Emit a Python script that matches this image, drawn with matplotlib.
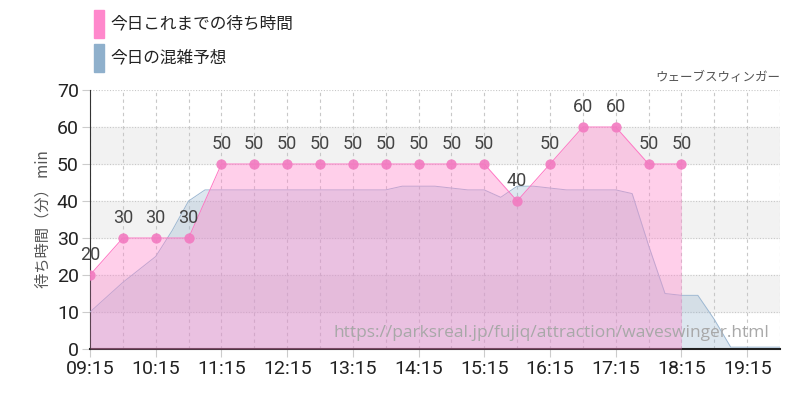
import matplotlib
matplotlib.use("Agg")
import matplotlib.pyplot as plt
import numpy as np

plt.rcParams['font.family'] = ['Noto Sans CJK JP', 'DejaVu Sans']

start_min = 9*60+15
actual_times = [start_min + 30*i for i in range(19)]
actual_vals = [20, 30, 30, 30, 50, 50, 50, 50, 50, 50, 50, 50, 50, 40, 50, 60, 60, 50, 50]
fc_times = [start_min + 15*i for i in range(43)]
fc_vals = [10, 14, 18, 21.5, 25, 32, 40, 43, 43, 43, 43, 43, 43, 43, 43, 43, 43, 43, 43,
           44, 44, 44, 43.5, 43, 43, 41, 44, 44, 43.5, 43, 43, 43, 43, 42, 28, 15,
           14.5, 14.5, 8, 0.5, 0.5, 0.5, 0.5]
fc_times = fc_times[:len(fc_vals)]
xtick_labels = ["09:15", "10:15", "11:15", "12:15", "13:15", "14:15", "15:15", "16:15", "17:15", "18:15", "19:15"]

fig = plt.figure(figsize=(8, 4), dpi=100)
ax = fig.add_axes([0.1125, 0.1275, 0.8625, 0.6475])
xmin, xmax = start_min, 19*60+45
ax.set_xlim(xmin, xmax)
ax.set_ylim(0, 70)
for lo in (10, 30, 50):
    ax.axhspan(lo, lo+10, color='#f2f2f2', zorder=0)
for y in range(10, 71, 10):
    ax.axhline(y, color='#c8c8c8', lw=0.8, ls=(0, (1, 1.5)), zorder=1)
for t in range(xmin, xmax+1, 30):
    ax.axvline(t, color='#c8c8c8', lw=0.8, ls=(0, (3, 3)), zorder=1)

ax.fill_between(fc_times, fc_vals, color='#8fb0cc', alpha=0.3, lw=0, zorder=2)
ax.plot(fc_times, fc_vals, color='#9db8d2', lw=0.7, zorder=3)
ax.fill_between(actual_times, actual_vals, color='#ff88cc', alpha=0.4, lw=0, zorder=4)
ax.plot(actual_times, actual_vals, color='#ff77c4', lw=0.7, zorder=5)
ax.scatter(actual_times, actual_vals, s=55, color='#f27ac0', alpha=0.9, lw=0, zorder=6)
for t, v in zip(actual_times, actual_vals):
    ax.text(t, v+3, str(v), ha='center', va='bottom', fontsize=13, color='#444444',
            family=['Roboto', 'DejaVu Sans'], zorder=7)

ax.set_xticks([start_min + 60*i for i in range(len(xtick_labels))])
ax.set_xticklabels(xtick_labels, family=['Roboto', 'DejaVu Sans'], fontsize=14, color='#222222')
ax.set_yticks(range(0, 71, 10))
ax.set_yticklabels([str(v) for v in range(0, 71, 10)], family=['Roboto', 'DejaVu Sans'], fontsize=14, color='#222222')
ax.tick_params(length=6, color='#cccccc', width=0.8, pad=2)
for s in ('top', 'right'):
    ax.spines[s].set_visible(False)
ax.spines['left'].set_color('#333333')
ax.spines['bottom'].set_color('#222222')
ax.spines['bottom'].set_linewidth(1.5)
ax.set_ylabel('待ち時間（分） min', fontsize=11, color='#555555')

ax.text(0.985, 0.03, 'https://parksreal.jp/fujiq/attraction/waveswinger.html', transform=ax.transAxes,
        ha='right', va='bottom', fontsize=12.5, color='#a8a8a8', family=['Open Sans', 'DejaVu Sans'], zorder=8)
fig.text(0.975, 0.79, 'ウェーブスウィンガー', ha='right', va='bottom', fontsize=9, color='#555555')

fig.patches.append(plt.Rectangle((0.1175, 0.905), 0.012, 0.07, transform=fig.transFigure, color='#ff88cc'))
fig.patches.append(plt.Rectangle((0.1175, 0.82), 0.012, 0.07, transform=fig.transFigure, color='#8fb0cc'))
fig.text(0.138, 0.94, '今日これまでの待ち時間', va='center', fontsize=12, color='#222222')
fig.text(0.138, 0.855, '今日の混雑予想', va='center', fontsize=12, color='#222222')

fig.savefig('out.png', dpi=100)
